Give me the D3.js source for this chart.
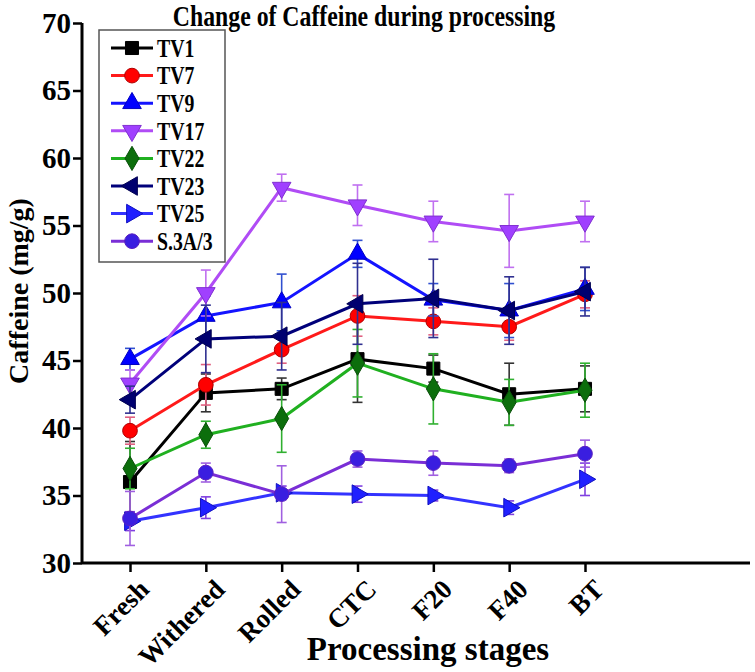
<!DOCTYPE html>
<html>
<head>
<meta charset="utf-8">
<script src="https://cdn.jsdelivr.net/npm/d3@7"></script>
<style>
  body { margin: 0; background: #fff; }
  text { font-family: "Liberation Serif", "DejaVu Serif", serif; font-weight: bold; }
</style>
</head>
<body>
<div id="container"></div>
<script>
var stages = ['Fresh', 'Withered', 'Rolled', 'CTC', 'F20', 'F40', 'BT'];
var yTicks = [30, 35, 40, 45, 50, 55, 60, 65, 70];
var seriesNames = ['TV1', 'TV7', 'TV9', 'TV17', 'TV22', 'TV23', 'TV25', 'S.3A/3'];

var tv1 = [36.0, 42.6, 42.9, 45.1, 44.4, 42.5, 42.9];
var tv7 = [39.8, 43.2, 45.8, 48.3, 47.9, 47.5, 49.9];
var tv9 = [45.1, 48.3, 49.3, 52.9, 49.5, 48.7, 50.3];
var tv17 = [43.3, 50.0, 57.8, 56.5, 55.3, 54.6, 55.3];
var tv22 = [37.0, 39.5, 40.7, 44.8, 42.9, 41.9, 42.8];
var tv23 = [42.1, 46.6, 46.8, 49.2, 49.6, 48.7, 50.1];
var tv25 = [33.1, 34.1, 35.2, 35.1, 35.0, 34.1, 36.2];
var s3a3 = [33.3, 36.7, 35.1, 37.7, 37.4, 37.2, 38.1];

// error bar half widths
var tv1Err = [3.0, 1.4, 0.8, 3.2, 1.0, 2.3, 1.7];
var tv7Err = [1.0, 1.5, 1.0, 1.5, 1.0, 1.0, 1.0];
var tv9Err = [0.8, 1.5, 2.1, 1.0, 1.2, 2.0, 1.6];
var tv17Err = [1.0, 1.7, 1.0, 1.5, 1.5, 2.7, 1.5];
var tv22Err = [1.5, 1.0, 2.5, 2.5, 2.6, 1.7, 2.0];
var tv23Err = [1.0, 2.5, 2.5, 3.0, 2.9, 2.5, 1.8];
var tv25Err = [0.7, 0.8, 0.5, 0.6, 0.4, 0.5, 1.2];
var s3a3Err = [2.0, 0.7, 2.1, 0.6, 0.9, 0.5, 1.0];

var seriesValues = [tv1, tv7, tv9, tv17, tv22, tv23, tv25, s3a3];
var seriesErrors = [tv1Err, tv7Err, tv9Err, tv17Err, tv22Err, tv23Err, tv25Err, s3a3Err];

var styles = [
    {line: '#000000', fill: '#000000', stroke: '#000000', err: '#333333', sym: d3.symbolSquare, rot: 0},
    {line: '#ff1a1a', fill: '#ff0000', stroke: '#b00000', err: '#e06080', sym: d3.symbolCircle, rot: 0},
    {line: '#1414ff', fill: '#0000ff', stroke: '#0000c0', err: '#3050d0', sym: d3.symbolTriangle, rot: 0},
    {line: '#b04cf5', fill: '#a040ff', stroke: '#8030d0', err: '#c070f0', sym: d3.symbolTriangle, rot: 180},
    {line: '#20b020', fill: '#0c6e0c', stroke: '#0a500a', err: '#30b030', sym: d3.symbolDiamond, rot: 0},
    {line: '#00007a', fill: '#000070', stroke: '#000050', err: '#303090', sym: d3.symbolTriangle, rot: -90},
    {line: '#3333ff', fill: '#2020ff', stroke: '#1010c0', err: '#8040e0', sym: d3.symbolTriangle, rot: 90},
    {line: '#7a2ed6', fill: '#3a1ee0', stroke: '#5a20c0', err: '#a060e0', sym: d3.symbolCircle, rot: 0}
];

var width = 755, height = 672;
var serif = '"Liberation Serif", "DejaVu Serif", serif';

var svg = d3.select('#container')
    .append('svg')
    .attr('width', width)
    .attr('height', height)
    .attr('font-family', serif);

var x = d3.scalePoint()
    .domain(stages)
    .range([130, 585]);

var y = d3.scaleLinear()
    .domain([30, 70])
    .range([563, 23]);

// title
svg.append('text')
    .attr('transform', 'translate(364,26) scale(0.82,1)')
    .attr('text-anchor', 'middle')
    .style('font-size', '29px')
    .text('Change of Caffeine during processing');

// y axis
var yAxis = svg.append('g')
    .attr('transform', 'translate(82,0)')
    .attr('font-family', serif)
    .call(d3.axisLeft(y).tickValues(yTicks).tickSize(9).tickPadding(2));
yAxis.select('.domain').attr('stroke-width', 3).attr('d', 'M0,' + y(70) + 'V' + y(30));
yAxis.selectAll('.tick line').attr('stroke-width', 2.5);
yAxis.selectAll('.tick text')
    .style('font-size', '29px')
    .style('font-family', serif)
    .style('font-weight', 'bold')
    .attr('fill', '#000');

// x axis
var xAxis = svg.append('g')
    .attr('transform', 'translate(0,563)')
    .attr('font-family', serif)
    .call(d3.axisBottom(x).tickSize(9).tickPadding(6));
xAxis.select('.domain').attr('stroke-width', 3).attr('d', 'M82,0H750');
xAxis.selectAll('.tick line').attr('stroke-width', 2.5);
xAxis.selectAll('.tick text')
    .style('font-size', '27px')
    .style('font-family', serif)
    .style('font-weight', 'bold')
    .attr('fill', '#000')
    .attr('text-anchor', 'end')
    .attr('dy', null)
    .attr('transform', 'translate(20,28) rotate(-45)')
    .attr('y', 0)
    .attr('x', 0);

// axis titles
svg.append('text')
    .attr('x', 428)
    .attr('y', 660)
    .attr('text-anchor', 'middle')
    .style('font-size', '33px')
    .text('Processing stages');

svg.append('text')
    .attr('transform', 'translate(28,291) rotate(-90)')
    .attr('text-anchor', 'middle')
    .style('font-size', '28px')
    .text('Caffeine (mg/g)');

// series
var line = d3.line()
    .x(function(d) { return x(d.stage); })
    .y(function(d) { return y(d.value); });

seriesNames.forEach(function(name, s) {
    var st = styles[s];
    var pts = stages.map(function(stage, i) {
        return {stage: stage, value: seriesValues[s][i], err: seriesErrors[s][i]};
    });
    var g = svg.append('g');

    var eb = g.selectAll('.err')
        .data(pts)
        .enter()
        .append('g')
        .attr('stroke', st.err)
        .attr('stroke-width', 1.6);
    eb.append('line')
        .attr('x1', function(d) { return x(d.stage); })
        .attr('x2', function(d) { return x(d.stage); })
        .attr('y1', function(d) { return y(d.value - d.err); })
        .attr('y2', function(d) { return y(d.value + d.err); });
    eb.append('line')
        .attr('x1', function(d) { return x(d.stage) - 5; })
        .attr('x2', function(d) { return x(d.stage) + 5; })
        .attr('y1', function(d) { return y(d.value + d.err); })
        .attr('y2', function(d) { return y(d.value + d.err); });
    eb.append('line')
        .attr('x1', function(d) { return x(d.stage) - 5; })
        .attr('x2', function(d) { return x(d.stage) + 5; })
        .attr('y1', function(d) { return y(d.value - d.err); })
        .attr('y2', function(d) { return y(d.value - d.err); });

    g.append('path')
        .datum(pts)
        .attr('d', line)
        .attr('fill', 'none')
        .attr('stroke', st.line)
        .attr('stroke-width', 3);

    g.selectAll('.mk')
        .data(pts)
        .enter()
        .append('path')
        .attr('d', d3.symbol().type(st.sym).size(st.sym === d3.symbolTriangle ? 150 : 170))
        .attr('transform', function(d) {
            return 'translate(' + x(d.stage) + ',' + y(d.value) + ') rotate(' + st.rot + ')';
        })
        .attr('fill', st.fill)
        .attr('stroke', st.stroke)
        .attr('stroke-width', 1);
});

// legend
var legend = svg.append('g');
legend.append('rect')
    .attr('x', 99)
    .attr('y', 30)
    .attr('width', 126)
    .attr('height', 232)
    .attr('fill', '#fff')
    .attr('stroke', '#555')
    .attr('stroke-width', 1.5);

var item = legend.selectAll('.item')
    .data(seriesNames)
    .enter()
    .append('g')
    .attr('transform', function(d, i) { return 'translate(0,' + (48 + i * 27.6) + ')'; });

item.append('line')
    .attr('x1', 111)
    .attr('x2', 153)
    .attr('stroke', function(d, i) { return styles[i].line; })
    .attr('stroke-width', 3);
item.append('path')
    .attr('d', function(d, i) {
        return d3.symbol().type(styles[i].sym).size(styles[i].sym === d3.symbolTriangle ? 150 : 170)();
    })
    .attr('transform', function(d, i) { return 'translate(132,0) rotate(' + styles[i].rot + ')'; })
    .attr('fill', function(d, i) { return styles[i].fill; })
    .attr('stroke', function(d, i) { return styles[i].stroke; });
item.append('text')
    .attr('transform', 'translate(157,0) scale(0.9,1.1)')
    .attr('dy', '0.36em')
    .style('font-size', '22px')
    .text(function(d) { return d; });
</script>
</body>
</html>
